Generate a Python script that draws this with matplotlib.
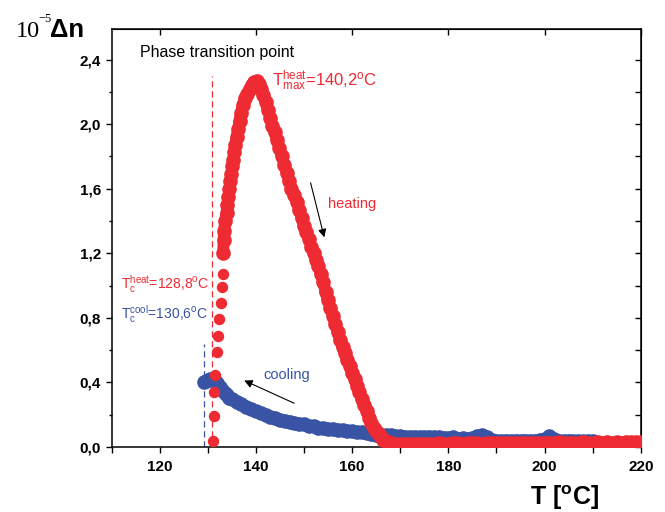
import numpy as np
import matplotlib.pyplot as plt
from matplotlib.ticker import FixedLocator, FuncFormatter

plt.rcParams['font.family'] = ['Liberation Sans', 'DejaVu Sans']
plt.rcParams['mathtext.fontset'] = 'custom'
plt.rcParams['mathtext.rm'] = 'Liberation Sans'
plt.rcParams['mathtext.it'] = 'Liberation Sans:italic'
plt.rcParams['mathtext.bf'] = 'Liberation Sans:bold'

RED = '#ee2a33'
BLUE = '#3954a5'

# heating, first sparse points near Tc
heat_start_T = [131.1, 131.2, 131.3, 131.6, 131.9, 132.1, 132.4, 132.7, 132.9, 133.1]
heat_start_dn = [0.04, 0.19, 0.34, 0.445, 0.59, 0.69, 0.79, 0.89, 0.99, 1.07]

# heating, dense part
heat_T = [133.2, 133.3, 133.4, 133.6, 133.9, 134.1, 134.3, 134.5, 134.7, 134.9,
          135.1, 135.3, 135.5, 135.7, 136.0, 136.3, 136.6, 136.9, 137.3, 137.7,
          138.2, 138.7, 139.2, 139.7, 140.2, 140.6, 141.0, 141.5, 142.0, 142.5,
          143.0, 143.4, 143.9, 144.4, 144.9, 145.4, 145.9, 146.4, 146.9, 147.4,
          147.9, 148.5, 149.0, 149.5, 150.0, 150.5, 151.0, 151.5, 152.0, 152.5,
          153.0, 153.5, 154.0, 154.5, 155.0, 155.5, 156.0, 156.5, 157.0, 157.5,
          158.0, 158.5, 159.0, 159.5, 160.0, 160.5, 161.0, 161.5, 162.0, 162.5,
          163.0, 163.5, 164.0, 164.5, 165.0, 165.5, 166.0, 166.5, 167.0, 167.5]
heat_dn = [1.20, 1.28, 1.34, 1.40, 1.45, 1.50, 1.55, 1.60, 1.65, 1.69,
           1.74, 1.78, 1.83, 1.87, 1.92, 1.97, 2.02, 2.07, 2.12, 2.16,
           2.19, 2.22, 2.24, 2.26, 2.27, 2.25, 2.22, 2.18, 2.14, 2.09,
           2.04, 1.99, 1.95, 1.90, 1.85, 1.80, 1.75, 1.70, 1.65, 1.60,
           1.56, 1.52, 1.47, 1.42, 1.37, 1.33, 1.29, 1.24, 1.20, 1.16,
           1.12, 1.07, 1.02, 0.96, 0.91, 0.86, 0.81, 0.76, 0.71, 0.66,
           0.62, 0.58, 0.54, 0.50, 0.46, 0.42, 0.38, 0.34, 0.30, 0.26,
           0.22, 0.18, 0.15, 0.12, 0.10, 0.08, 0.06, 0.045, 0.035, 0.03]

# heating, flat tail
tail_T = list(range(168, 221))
tail_dn = [0.022, 0.020, 0.018, 0.020, 0.019, 0.018, 0.020, 0.021, 0.019, 0.020,
           0.022, 0.020, 0.021, 0.024, 0.022, 0.020, 0.023, 0.025, 0.022, 0.020,
           0.024, 0.022, 0.023, 0.025, 0.022, 0.024, 0.026, 0.023, 0.025, 0.022,
           0.024, 0.027, 0.025, 0.023, 0.026, 0.028, 0.025, 0.027, 0.024, 0.026,
           0.030, 0.027, 0.025, 0.028, 0.026, 0.030, 0.027, 0.029, 0.026, 0.028,
           0.031, 0.028, 0.030]

# cooling
cool_T = [129.3, 129.6, 130.0, 130.5, 131.0, 131.5, 132.0, 132.5, 133.0, 133.5,
          134.0, 134.5, 135.0, 136.0, 137.0, 138.0, 139.0, 140.0, 141.0, 142.0,
          143.0, 144.0, 145.0, 146.0, 147.0, 148.0, 149.0, 150.0, 151.0, 152.0,
          153.0, 154.0, 155.0, 156.0, 157.0, 158.0, 159.0, 160.0, 161.0, 162.0,
          163.0, 164.0, 165.0, 166.0, 167.0, 168.0, 169.0, 170.0, 171.0, 172.0,
          173.0, 174.0, 175.0, 176.0, 177.0, 178.0, 179.0, 180.0, 181.0, 182.0,
          183.0, 184.0, 185.0, 186.0, 187.0, 188.0, 189.0, 190.0, 191.0, 192.0,
          193.0, 194.0, 195.0, 196.0, 197.0, 198.0, 199.0, 200.0, 201.0, 202.0,
          203.0, 204.0, 205.0, 206.0, 207.0, 208.0, 209.0, 210.0]
cool_dn = [0.40, 0.41, 0.415, 0.42, 0.42, 0.41, 0.395, 0.37, 0.35, 0.335,
           0.32, 0.305, 0.295, 0.28, 0.265, 0.25, 0.235, 0.22, 0.21, 0.20,
           0.185, 0.178, 0.17, 0.162, 0.157, 0.15, 0.145, 0.14, 0.133, 0.128,
           0.12, 0.116, 0.112, 0.11, 0.105, 0.103, 0.10, 0.097, 0.095, 0.09,
           0.085, 0.078, 0.075, 0.072, 0.075, 0.072, 0.07, 0.066, 0.064, 0.063,
           0.064, 0.062, 0.063, 0.064, 0.061, 0.063, 0.058, 0.056, 0.06, 0.052,
           0.055, 0.05, 0.055, 0.065, 0.075, 0.06, 0.045, 0.04, 0.038, 0.04,
           0.037, 0.04, 0.038, 0.04, 0.038, 0.04, 0.045, 0.05, 0.065, 0.05,
           0.04, 0.038, 0.04, 0.037, 0.035, 0.036, 0.034, 0.035]

Tc_heat_line = 130.9
Tc_cool_line = 129.2

fig = plt.figure(figsize=(6.65, 5.12), dpi=100)
ax = fig.add_axes([0.1677, 0.127, 0.796, 0.8164])

ms = 9.5
# cooling underneath
ax.plot(cool_T, cool_dn, color=BLUE, lw=ms * 0.9, marker='o', ms=ms,
        solid_capstyle='round', zorder=2)
# heating
ax.plot(heat_start_T, heat_start_dn, 'o', color=RED, ms=7.2, zorder=3)
ax.plot(heat_T + tail_T, heat_dn + tail_dn, color=RED, lw=ms * 0.9, marker='o',
        ms=ms, solid_capstyle='round', zorder=3)

ax.plot([Tc_heat_line, Tc_heat_line], [0, 2.30], ls=(0, (5, 3)), color=RED, lw=0.9, zorder=1)
ax.plot([Tc_cool_line, Tc_cool_line], [0, 0.636], ls=(0, (5, 3)), color=BLUE, lw=0.9, zorder=1)

ax.set_xlim(110, 220)
ax.set_ylim(0, 2.59)

comma = FuncFormatter(lambda v, p: ('%.1f' % v).replace('.', ','))
ax.xaxis.set_major_locator(FixedLocator([120, 140, 160, 180, 200, 220]))
ax.xaxis.set_minor_locator(FixedLocator([110, 130, 150, 170, 190, 210]))
ax.yaxis.set_major_locator(FixedLocator([0, 0.4, 0.8, 1.2, 1.6, 2.0, 2.4]))
ax.yaxis.set_minor_locator(FixedLocator([0.2, 0.6, 1.0, 1.4, 1.8, 2.2]))
ax.yaxis.set_major_formatter(comma)
ax.tick_params(axis='x', which='both', direction='out', length=4.5, width=1.0, pad=5,
               labelsize=11)
ax.tick_params(axis='y', which='major', direction='out', length=4.5, width=1.0, pad=3,
               labelsize=11)
ax.tick_params(axis='y', which='minor', direction='out', length=2.5, width=1.0)
for lab in ax.get_xticklabels() + ax.get_yticklabels():
    lab.set_fontweight('bold')
for s in ax.spines.values():
    s.set_linewidth(1.1)

top = ax.secondary_xaxis('top')
top.set_xticks([120, 140, 160, 180, 200, 220])
top.tick_params(direction='in', length=4.5, width=1.0, labeltop=False)
right = ax.secondary_yaxis('right')
right.set_yticks([0, 0.4, 0.8, 1.2, 1.6, 2.0, 2.4])
right.set_yticks([0.2, 0.6, 1.0, 1.4, 1.8, 2.2], minor=True)
right.tick_params(which='both', direction='in', length=4.5, width=1.0, labelright=False)

# texts
ax.text(115.9, 2.415, 'Phase transition point', fontsize=11.5, color='black')
ax.text(143.3, 2.24, r'$\mathrm{T}^{\mathrm{heat}}_{\mathrm{max}}$=140,2$^{\mathrm{o}}$C',
        fontsize=12, color=RED)
ax.text(155.0, 1.478, 'heating', fontsize=10.5, color=RED)
ax.text(141.5, 0.421, 'cooling', fontsize=10.5, color=BLUE)
ax.text(111.9, 0.978, r'$\mathrm{T}^{\mathrm{heat}}_{\mathrm{c}}$=128,8$^{\mathrm{o}}$C',
        fontsize=10, color=RED)
ax.text(111.9, 0.797, r'$\mathrm{T}^{\mathrm{cool}}_{\mathrm{c}}$=130,6$^{\mathrm{o}}$C',
        fontsize=10, color=BLUE)

ax.annotate('', xy=(154.35, 1.282), xytext=(151.23, 1.653),
            arrowprops=dict(arrowstyle='-|>', color='black', lw=0.8, mutation_scale=12))
ax.annotate('', xy=(137.05, 0.419), xytext=(148.47, 0.264),
            arrowprops=dict(arrowstyle='-|>', color='black', lw=0.8, mutation_scale=12))

# axis titles
serif = ['Liberation Serif', 'DejaVu Serif']
fig.text(16 / 665, 1 - 37 / 512, '10', fontsize=17.5, family=serif, va='baseline')
fig.text(38 / 665, 1 - 22 / 512, '\u22125', fontsize=9, family=serif, va='baseline')
fig.text(50 / 665, 1 - 37 / 512, 'Δn', fontsize=18.5, fontweight='bold', va='baseline')
fig.text(530 / 665, 1 - 505 / 512, r'T [$^{\mathbf{o}}$C]', fontsize=18,
         fontweight='bold', va='baseline')

fig.savefig('out.png', dpi=100)
